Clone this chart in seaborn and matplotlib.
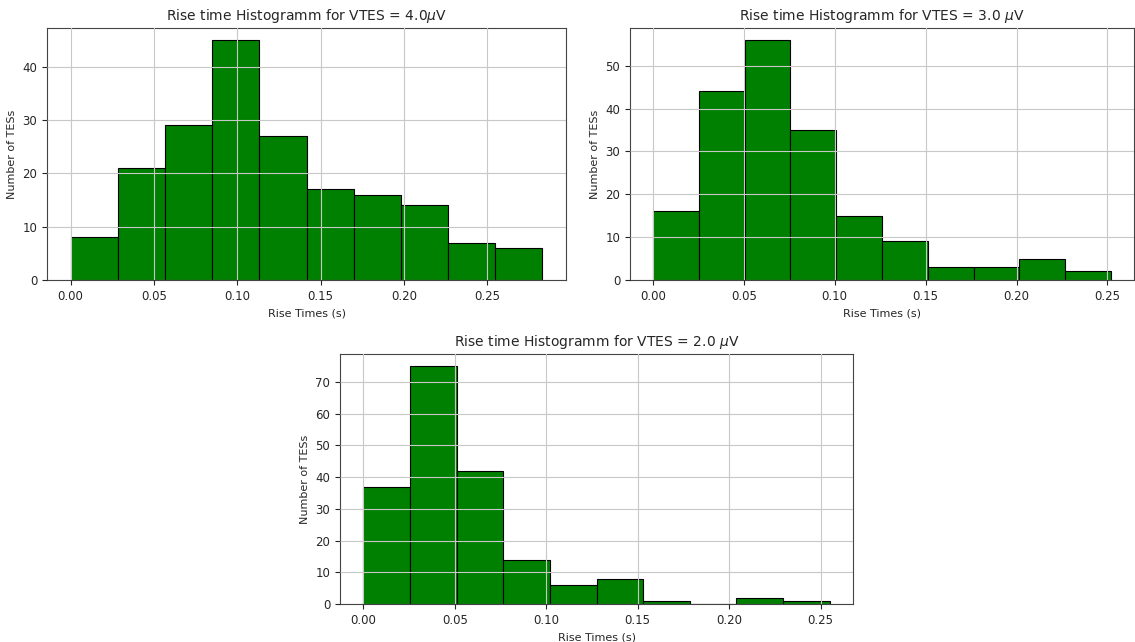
import numpy as np
import pandas as pd
import matplotlib
matplotlib.use("Agg")
import matplotlib.pyplot as plt
import seaborn as sns

# bin edges (s) and counts
edges_4 = np.linspace(0.0, 0.283, 11)
counts_4 = [8, 21, 29, 45, 27, 17, 16, 14, 7, 6]

edges_3 = np.linspace(0.0, 0.252, 11)
counts_3 = [16, 44, 56, 35, 15, 9, 3, 3, 5, 2]

edges_2 = np.linspace(0.0, 0.255, 11)
counts_2 = [37, 75, 42, 14, 6, 8, 1, 0, 2, 1]

titles = ["Rise time Histogramm for VTES = 4.0$\\mu$V",
          "Rise time Histogramm for VTES = 3.0 $\\mu$V",
          "Rise time Histogramm for VTES = 2.0 $\\mu$V"]

plt.rcParams['font.family'] = ['DejaVu Sans']
plt.rcParams['text.color'] = '#262626'
plt.rcParams['axes.labelcolor'] = '#262626'
plt.rcParams['xtick.color'] = '#262626'
plt.rcParams['ytick.color'] = '#262626'

fig = plt.figure(figsize=(11.35, 6.42), dpi=100)
W, H = 1135, 642
# axes rectangles in pixels: left, top, right, bottom
boxes = [(47, 28, 566, 280), (630, 28, 1134, 280), (340, 354, 853, 604)]

data = [(edges_4, counts_4), (edges_3, counts_3), (edges_2, counts_2)]

for (l, t, r, b), (edges, counts), title in zip(boxes, data, titles):
    ax = fig.add_axes([l / W, 1 - b / H, (r - l) / W, (b - t) / H])
    df = pd.DataFrame({"t": (edges[:-1] + edges[1:]) / 2, "n": counts})
    sns.histplot(data=df, x="t", weights="n", bins=list(edges), color="green",
                 edgecolor="black", linewidth=0.8, alpha=1.0, ax=ax)
    ax.set_xticks([0.0, 0.05, 0.10, 0.15, 0.20, 0.25])
    ax.set_xticklabels(["0.00", "0.05", "0.10", "0.15", "0.20", "0.25"])
    ax.grid(True, color="#c8c8c8", linewidth=0.8)
    ax.set_axisbelow(False)
    for s in ax.spines.values():
        s.set_color("#444444")
    ax.set_title(title, fontsize=10)
    ax.set_xlabel("Rise Times (s)", fontsize=8)
    ax.set_ylabel("Number of TESs", fontsize=8)
    ax.tick_params(labelsize=8.5)

fig.savefig("out.png", dpi=100)
